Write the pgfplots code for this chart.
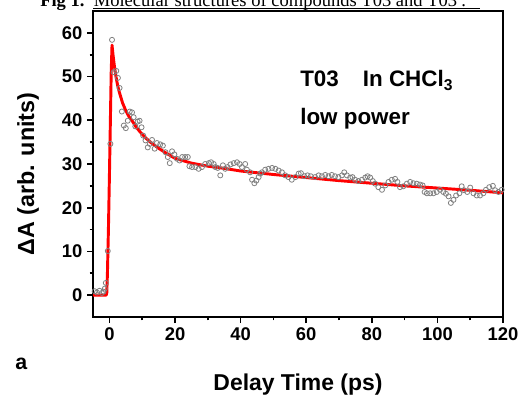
\documentclass[border=0pt]{standalone}
\usepackage{fontspec}
\setmainfont{Liberation Sans}
\newfontfamily\seriffont{Liberation Serif}
\usepackage{pgfplots}
\pgfplotsset{compat=1.18}
\pgfplotstableread{
t v
-4.5 0.9
-3.8 0.6
-3.0 1.0
-2.3 0.5
-1.8 0.8
-1.4 1.5
-1.1 2.8
-0.5 10.1
0.3 34.6
0.8 58.4
1.3 51.0
2.1 51.3
2.6 49.7
3.1 47.4
3.8 42.0
4.4 38.8
5.0 38.2
5.6 39.9
6.2 42.0
6.9 41.8
7.4 40.7
7.9 38.6
8.6 39.7
9.2 39.9
9.8 38.4
10.3 36.5
11.0 35.4
11.7 33.8
12.3 34.6
13.0 35.5
13.8 33.5
14.5 34.8
15.5 34.5
16.3 34.2
17.1 32.7
17.8 31.6
18.4 30.2
19.1 32.9
19.8 32.2
20.6 31.2
21.4 30.8
22.2 31.6
23.1 31.6
23.9 31.6
24.4 29.5
25.2 29.3
26.2 29.3
27.2 28.9
28.2 29.3
29.2 30.0
30.3 30.2
31.0 30.4
31.8 30.0
32.3 29.3
33.0 29.1
33.8 27.4
34.6 29.7
35.3 28.9
36.0 29.3
36.9 29.9
37.9 30.2
38.9 30.4
39.7 30.0
40.4 29.3
41.4 30.0
41.9 28.7
42.9 28.1
43.5 26.4
44.2 25.6
44.8 26.2
45.5 27.0
46.0 27.8
46.5 28.1
47.5 28.7
48.5 28.9
49.6 29.1
50.6 28.9
51.6 28.5
52.6 28.1
53.6 27.4
54.6 27.0
55.6 26.4
56.7 27.0
57.7 27.8
58.4 27.9
59.4 27.2
60.4 27.4
61.4 27.2
62.7 27.0
63.8 27.4
64.8 27.2
65.8 27.5
66.8 27.2
67.8 27.5
68.8 27.2
69.8 27.0
70.9 27.4
71.6 28.1
72.4 27.4
73.4 26.9
74.1 27.0
74.9 26.4
75.9 26.1
77.0 26.4
78.0 26.9
78.7 27.2
79.5 26.9
80.3 26.1
81.0 25.5
82.0 24.7
83.1 24.1
84.1 25.1
85.1 25.9
86.1 26.4
87.1 26.6
87.8 25.9
88.6 24.7
89.6 24.9
90.7 25.5
91.7 25.9
92.7 25.6
93.7 25.5
94.7 25.3
95.5 25.1
96.1 23.6
96.8 23.3
97.8 23.3
98.8 23.3
99.8 23.6
100.8 24.1
101.8 23.6
102.6 23.2
103.4 22.6
104.1 21.1
104.9 21.8
105.7 22.8
106.7 23.3
107.4 24.9
108.1 24.0
109.1 23.6
110.0 24.6
111.0 23.3
112.0 22.8
113.0 22.8
114.0 23.3
114.8 24.1
115.8 24.7
116.9 25.0
117.6 24.0
118.6 23.6
119.6 24.1
}\datatable
\pgfplotstableread{
t v
-5 0
-1.0 0
-0.8 0.5
-0.6 5
-0.3 15
0 27
0.3 40
0.55 51
0.8 57.2
1.1 55
1.5 52.5
2 50
2.5 48
3 46.5
4 44
5 42.2
6 40.8
7 39.8
8 38.6
9.4 37.3
11 36
12.5 35
15 33.6
17.5 32.4
20 31.3
25 30.2
30 29.5
35 29
40 28.4
50 27.6
60 26.9
70 26.2
80 25.6
90 25
100 24.5
110 24
120 23.4
}\fittable
\begin{document}
\begin{tikzpicture}
\begin{axis}[
  at={(69.75pt,59.25pt)}, anchor=south west,
  scale only axis, width=307.5pt, height=229.5pt,
  xmin=-5, xmax=120, ymin=-5, ymax=65,
  xtick={0,20,...,120}, ytick={0,10,...,60},
  minor x tick num=1, minor y tick num=1,
  tick pos=left, tick align=outside,
  major tick length=4.5pt, minor tick length=2.6pt,
  axis line style={line width=1.5pt},
  tick style={line width=1.2pt, black},
  /pgf/number format/assume math mode=true,
  ticklabel style={font=\fontsize{13.8}{14}\selectfont\bfseries},
]
\addplot[only marks, mark=o, mark size=1.9pt, mark options={draw=gray, line width=0.6pt}] table[x=t,y=v] {\datatable};
\addplot[red, line width=2.2pt, line join=round] table[x=t,y=v] {\fittable};
\end{axis}
\node[anchor=base west, inner sep=0pt, font=\fontsize{16.8}{18}\selectfont\bfseries] at (225pt,231.75pt) {T03\hspace{18pt}In CHCl\textsubscript{3}};
\node[anchor=base west, inner sep=0pt, font=\fontsize{16.8}{18}\selectfont\bfseries] at (225pt,203.25pt) {low power};
\node[rotate=90, font=\fontsize{17.5}{18}\selectfont\bfseries] at (21pt,166.5pt) {ΔA (arb. units)};
\node[anchor=base, font=\fontsize{17.2}{18}\selectfont\bfseries] at (223.5pt,4.5pt) {Delay Time (ps)};
\node[anchor=base west, inner sep=0pt, font=\fontsize{16}{18}\selectfont\bfseries] at (11.25pt,20.25pt) {a};
\node[anchor=base west, inner sep=0pt, font=\seriffont\fontsize{13.9}{15}\selectfont] at (30pt,292.1pt) {\textbf{Fig 1.}\ \ Molecular structures of compounds T03 and T03′.};
\draw[line width=0.6pt] (69.75pt,290.6pt) -- (360pt,290.6pt);
\pgfresetboundingbox
\path[use as bounding box] (0,0) rectangle (395.25pt,297pt);
\end{tikzpicture}
\end{document}
